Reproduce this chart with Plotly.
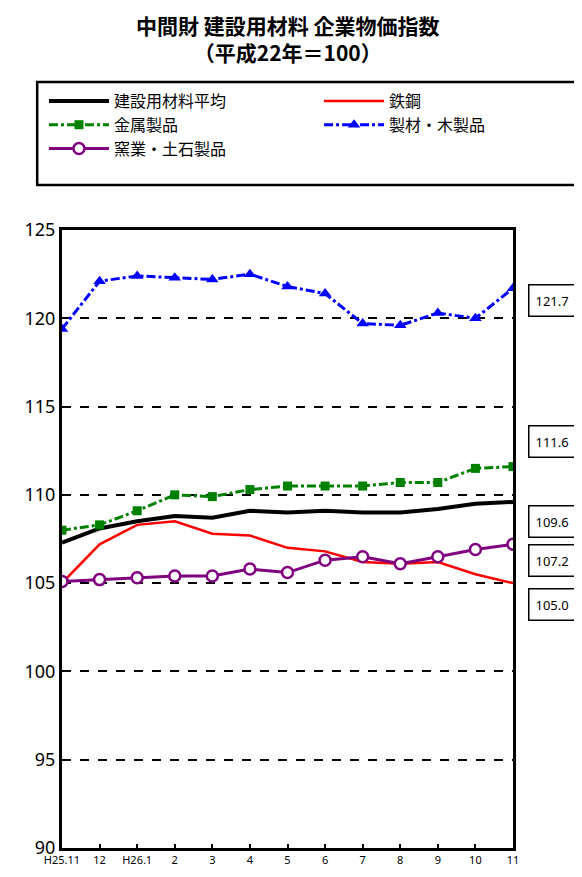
import plotly.graph_objects as go

months = ["H25.11", "12", "H26.1", "2", "3", "4", "5", "6", "7", "8", "9", "10", "11"]
avg = [107.3, 108.1, 108.5, 108.8, 108.7, 109.1, 109.0, 109.1, 109.0, 109.0, 109.2, 109.5, 109.6]
steel = [105.0, 107.2, 108.3, 108.5, 107.8, 107.7, 107.0, 106.8, 106.2, 106.1, 106.2, 105.5, 105.0]
metal = [108.0, 108.3, 109.1, 110.0, 109.9, 110.3, 110.5, 110.5, 110.5, 110.7, 110.7, 111.5, 111.6]
wood = [119.4, 122.1, 122.4, 122.3, 122.2, 122.5, 121.8, 121.4, 119.7, 119.6, 120.3, 120.0, 121.7]
ceramic = [105.1, 105.2, 105.3, 105.4, 105.4, 105.8, 105.6, 106.3, 106.5, 106.1, 106.5, 106.9, 107.2]

# label positions (data y) for the end-value boxes
end_labels = [("121.7", 121.0), ("111.6", 113.0), ("109.6", 108.5), ("107.2", 106.3), ("105.0", 103.8)]

x = list(range(len(months)))
fig = go.Figure()
fig.add_trace(go.Scatter(x=x, y=avg, name="建設用材料平均", mode="lines", legend="legend",
                         line=dict(color="black", width=4)))
fig.add_trace(go.Scatter(x=x, y=steel, name="鉄鋼", mode="lines", legend="legend2",
                         line=dict(color="red", width=2.5)))
fig.add_trace(go.Scatter(x=x, y=metal, name="金属製品", mode="lines+markers", legend="legend",
                         line=dict(color="green", width=3, dash="dashdot"),
                         marker=dict(symbol="square", size=9, color="green")))
fig.add_trace(go.Scatter(x=x, y=wood, name="製材・木製品", mode="lines+markers", legend="legend2",
                         line=dict(color="blue", width=3, dash="dashdot"),
                         marker=dict(symbol="triangle-up", size=11, color="blue")))
fig.add_trace(go.Scatter(x=x, y=ceramic, name="窯業・土石製品", mode="lines+markers", legend="legend",
                         line=dict(color="purple", width=3),
                         marker=dict(symbol="circle", size=11, color="white",
                                     line=dict(color="purple", width=2.5))))

for txt, yv in end_labels:
    fig.add_annotation(x=1.033, xref="paper", y=yv, yref="y", text=txt, showarrow=False,
                       xanchor="left", bordercolor="black", borderwidth=1.5, borderpad=6,
                       bgcolor="white", font=dict(size=13, color="black", family="Noto Sans"))

fig.add_annotation(x=0.5, xref="paper", y=(848 - 8) / 618, yref="paper", showarrow=False,
                   text="<b>中間財 建設用材料 企業物価指数<br>（平成22年＝100）</b>",
                   font=dict(size=21, color="black"), xanchor="center", yanchor="top")
fig.add_shape(type="rect", xref="paper", yref="paper", x0=-0.055, x1=1.14,
              y0=(848 - 185) / 618, y1=(848 - 82) / 618, line=dict(color="black", width=2.5))

leg = dict(yanchor="top", xanchor="left", font=dict(size=16), itemwidth=60,
           bgcolor="rgba(0,0,0,0)", tracegroupgap=0)
fig.update_layout(
    width=566, height=861, plot_bgcolor="white", paper_bgcolor="white",
    margin=dict(l=54, r=61, t=222, b=21),
    font=dict(family="Noto Sans CJK JP", color="black", size=15),
    legend=dict(x=-0.04, y=(848 - 84) / 618, **leg),
    legend2=dict(x=0.57, y=(848 - 84) / 618, **leg),
)
fig.update_xaxes(range=[0, 12], tickvals=x, ticktext=months, showline=True, linecolor="black",
                 linewidth=3, mirror=True, ticks="inside", ticklen=4, tickwidth=2, automargin=False,
                 tickcolor="black", showgrid=False, tickfont=dict(size=11, family="Noto Sans"))
fig.update_yaxes(range=[90, 125], dtick=5, showline=True, linecolor="black", linewidth=3,
                 mirror=True, gridcolor="black", griddash="dash", gridwidth=1.5, automargin=False,
                 ticks="", tickfont=dict(size=18, family="Noto Sans"), zeroline=False)

fig.write_html("out.html")
